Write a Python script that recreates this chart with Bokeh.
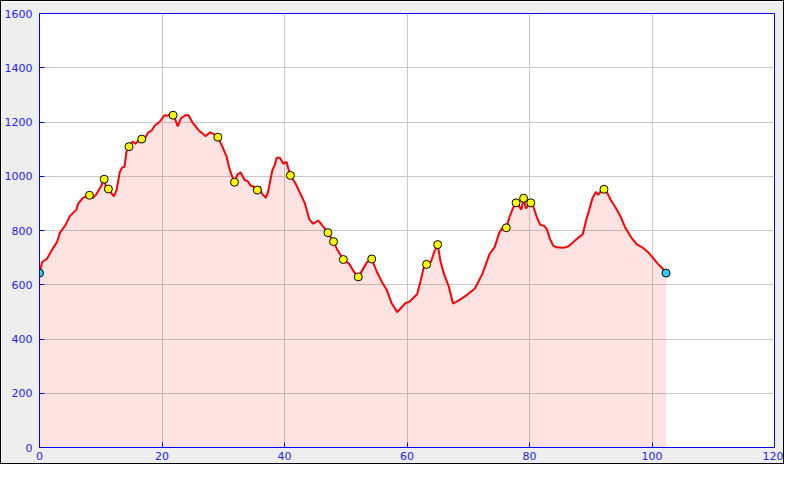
from bokeh.plotting import figure
from bokeh.models import FixedTicker, Range1d
from bokeh.embed import file_html
from bokeh.resources import INLINE

# Elevation profile (distance km, elevation m)
dist_km = [0.0, 0.43, 1.23, 2.29, 2.83, 3.36, 4.16, 4.96, 6.03, 6.29, 7.09, 8.16, 8.69, 9.23,
           10.03, 10.56, 10.83, 11.25, 11.73, 12.16, 12.59, 13.12, 13.49, 13.87, 14.19, 14.61,
           15.2, 15.63, 16.16, 16.69, 17.23, 17.76, 18.29, 18.83, 19.63, 20.43, 20.96, 21.23,
           21.81, 22.19, 22.56, 23.09, 23.79, 24.32, 24.96, 26.03, 26.56, 27.09, 27.89, 28.43,
           29.12, 29.76, 30.56, 30.93, 31.36, 31.84, 32.32, 32.85, 33.49, 34.03, 34.45, 34.93,
           35.57, 36.0, 36.27, 36.96, 37.33, 37.65, 38.03, 38.4, 38.72, 39.25, 39.79, 40.32,
           40.96, 41.76, 42.56, 43.36, 44.05, 44.69, 45.49, 46.03, 47.09, 48.0, 48.69, 49.6,
           50.56, 51.36, 52.05, 52.69, 53.49, 54.24, 55.09, 55.89, 56.69, 57.49, 58.4, 59.09,
           59.73, 60.43, 61.65, 62.19, 62.72, 63.2, 63.89, 64.53, 65.01, 65.49, 66.03, 66.83,
           67.52, 68.69, 69.76, 71.09, 72.32, 73.49, 74.29, 75.09, 75.63, 76.21, 76.69, 77.33,
           77.81, 78.29, 78.67, 79.04, 79.41, 79.79, 80.21, 80.69, 81.23, 81.76, 82.4, 82.83,
           83.36, 83.89, 84.43, 85.49, 86.29, 87.09, 87.89, 88.69, 89.33, 89.76, 90.29, 90.83,
           91.25, 91.68, 92.16, 92.69, 93.23, 94.03, 94.83, 95.63, 96.59, 97.49, 98.4, 99.36,
           100.16, 100.96, 101.76, 102.29]
elev_m = [643, 684, 696, 738, 756, 793, 817, 853, 877, 898, 920, 930, 920, 932,
          962, 989, 962, 953, 938, 926, 950, 1017, 1032, 1035, 1090, 1109,
          1128, 1120, 1132, 1137, 1141, 1162, 1168, 1187, 1201, 1225, 1223, 1229,
          1225, 1208, 1184, 1213, 1225, 1225, 1199, 1168, 1159, 1148, 1162, 1156,
          1144, 1114, 1072, 1035, 1005, 978, 1007, 1014, 986, 981, 966, 962,
          949, 962, 938, 920, 944, 981, 1023, 1041, 1068, 1068, 1047, 1053,
          1002, 975, 938, 898, 841, 825, 837, 823, 792, 759, 726, 693,
          677, 647, 629, 653, 684, 695, 647, 611, 581, 532, 499, 516,
          532, 538, 565, 611, 663, 675, 684, 726, 748, 684, 641, 593,
          530, 546, 562, 586, 641, 714, 738, 793, 811, 810, 847, 884,
          902, 890, 877, 919, 881, 893, 902, 884, 847, 821, 817, 805,
          768, 744, 738, 736, 741, 756, 772, 786, 845, 877, 920, 942,
          932, 947, 952, 938, 914, 886, 853, 811, 775, 750, 738, 720,
          699, 677, 659, 643]

# Waypoints
wp_km = [8.16, 10.56, 11.25, 14.61, 16.69, 21.81, 29.12, 31.84, 35.57, 40.96, 47.09, 48.0,
         49.6, 52.05, 54.24, 63.2, 65.01, 76.21, 77.81, 79.04, 80.21, 92.16]
wp_m = [930, 989, 953, 1109, 1137, 1225, 1144, 978, 949, 1003, 792, 759,
        693, 629, 695, 675, 748, 810, 902, 919, 902, 952]

# Start / end points
end_km = [0.0, 102.29]
end_m = [643, 643]

x_ticks = [0, 20, 40, 60, 80, 100, 120]
y_ticks = [0, 200, 400, 600, 800, 1000, 1200, 1400, 1600]

p = figure(width=784, height=464, output_backend="svg", toolbar_location=None,
           x_range=Range1d(0, 120), y_range=Range1d(0, 1600),
           min_border_left=38, min_border_right=11, min_border_top=12, min_border_bottom=18,
           background_fill_color="white", border_fill_color="#eeeeee",
           outline_line_color="blue", outline_line_width=1,
           styles={"border": "1px solid black", "box-sizing": "border-box"})

p.varea(x=dist_km, y1=0, y2=elev_m, fill_color="red", fill_alpha=0.11)
p.line(dist_km, elev_m, line_color="red", line_width=2)
p.scatter(wp_km, wp_m, size=8, fill_color="yellow", line_color="black", line_width=1)
p.scatter(end_km, end_m, size=8, fill_color="#33ccee", line_color="black", line_width=1)

for ax, ticks in ((p.xaxis[0], x_ticks), (p.yaxis[0], y_ticks)):
    ax.ticker = FixedTicker(ticks=ticks)
    ax.axis_line_color = "blue"
    ax.major_tick_line_color = "blue"
    ax.major_tick_in = 5
    ax.major_tick_out = 0
    ax.minor_tick_line_color = None
    ax.major_label_text_color = "#2222ff"
    ax.major_label_text_font = "DejaVu Sans"
    ax.major_label_text_font_size = "11px"
p.xaxis.major_label_standoff = 4
p.yaxis.major_label_standoff = 7

p.xgrid.ticker = FixedTicker(ticks=x_ticks)
p.ygrid.ticker = FixedTicker(ticks=y_ticks)
p.grid.grid_line_color = "#c8c8c8"
p.grid.grid_line_width = 1

open("out.html", "w").write(file_html(p, INLINE))
